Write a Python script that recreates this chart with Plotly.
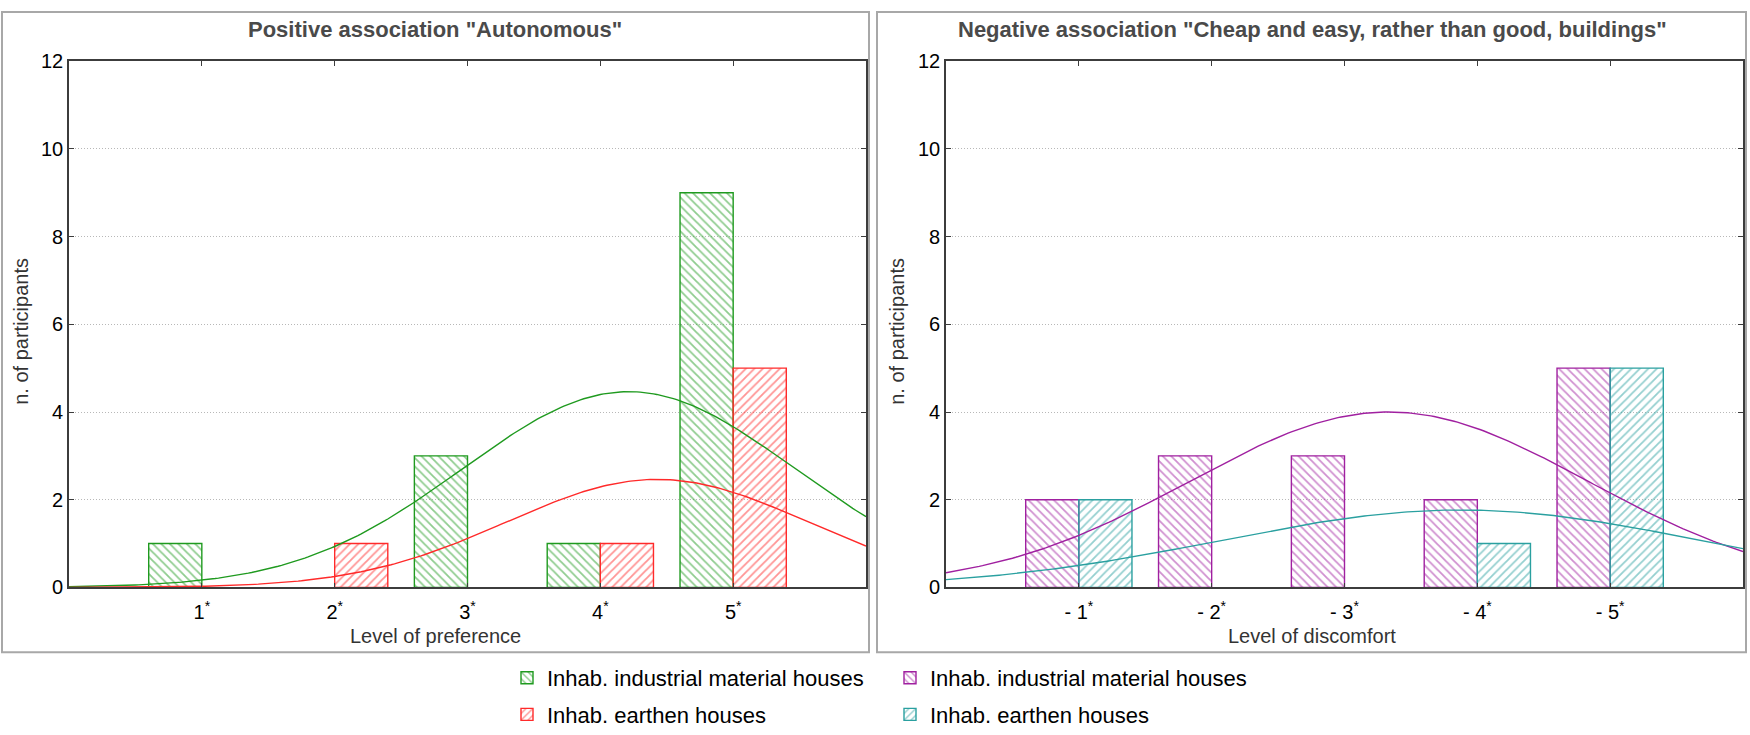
import numpy as np
import plotly.graph_objects as go

# ---------------- data ----------------
levels = [1, 2, 3, 4, 5]
ticks_left = ["1<sup>*</sup>", "2<sup>*</sup>", "3<sup>*</sup>", "4<sup>*</sup>", "5<sup>*</sup>"]
ticks_right = ["- 1<sup>*</sup>", "- 2<sup>*</sup>", "- 3<sup>*</sup>", "- 4<sup>*</sup>", "- 5<sup>*</sup>"]

industrial_pos = [1, 0, 3, 1, 9]   # green
earthen_pos = [0, 1, 0, 1, 5]      # red
industrial_neg = [2, 3, 3, 2, 5]   # purple
earthen_neg = [2, 0, 0, 1, 5]      # teal

title_left = 'Positive association "Autonomous"'
title_right = 'Negative association "Cheap and easy, rather than good, buildings"'
xlabel_left = "Level of preference"
xlabel_right = "Level of discomfort"
ylabel = "n. of participants"
name_ind = "Inhab. industrial material houses"
name_earth = "Inhab. earthen houses"

GREEN = "#1f9a1f"
RED = "#ff2a2a"
PURPLE = "#a020a0"
TEAL = "#2aa0a0"
FONT = "Liberation Sans, Arial, sans-serif"

W, H = 1750, 745
# vertical calibration of the page -> picture mapping
V_OFF, V_SC = 9.7, 0.972


def px(x):
    return x / W


def py(y_ref):
    page_y = max((y_ref - V_OFF) / V_SC, 1.0)
    return 1 - page_y / H


def normal_fit(counts, xs):
    """Expected counts from a normal distribution fitted to the histogram."""
    c = np.asarray(counts, float)
    v = np.asarray(levels, float)
    n = c.sum()
    mu = (c * v).sum() / n
    sd = np.sqrt((c * (v - mu) ** 2).sum() / (n - 1))
    return n * np.exp(-0.5 * ((xs - mu) / sd) ** 2) / (sd * np.sqrt(2 * np.pi))


def nz(counts):
    return [c if c > 0 else None for c in counts]


xs = np.linspace(0, 6, 241)

fig = go.Figure()


def add_bar(counts, color, shape, name, xa, ya, legend, group):
    fig.add_trace(go.Bar(
        x=levels, y=nz(counts), name=name, xaxis=xa, yaxis=ya,
        legend=legend, legendgroup=group,
        marker=dict(color="rgba(255,255,255,0)",
                    line=dict(color=color, width=1.4),
                    pattern=dict(shape=shape, fgcolor=color, bgcolor="rgba(255,255,255,0)",
                                 size=6, solidity=0.3)),
        hoverinfo="skip"))


add_bar(industrial_pos, GREEN, "\\", name_ind, "x", "y", "legend", "g1")
add_bar(earthen_pos, RED, "/", name_earth, "x", "y", "legend", "g2")
add_bar(industrial_neg, PURPLE, "\\", name_ind, "x2", "y2", "legend2", "g3")
add_bar(earthen_neg, TEAL, "/", name_earth, "x2", "y2", "legend2", "g4")

for counts, color, xa, ya in [(industrial_pos, GREEN, "x", "y"), (earthen_pos, RED, "x", "y"),
                              (industrial_neg, PURPLE, "x2", "y2"), (earthen_neg, TEAL, "x2", "y2")]:
    fig.add_trace(go.Scatter(x=xs, y=normal_fit(counts, xs), mode="lines",
                             line=dict(color=color, width=1.4), xaxis=xa, yaxis=ya,
                             showlegend=False, hoverinfo="skip"))

axis_common = dict(showline=True, linecolor="#3c3c3c", linewidth=1.6, mirror="ticks",
                   ticks="inside", ticklen=5, tickcolor="#3c3c3c", tickwidth=1.2,
                   zeroline=False, tickfont=dict(family=FONT, size=20, color="#000"))
grid_common = dict(showgrid=True, gridcolor="#b8b8b8", griddash="1px,2px", gridwidth=1)

y_dom = [py(587), py(60)]


def ann(text, x, y, size, color, angle=0):
    return dict(text=text, x=px(x), y=py(y), xref="paper", yref="paper",
                xanchor="center", yanchor="middle", textangle=angle, showarrow=False,
                font=dict(family=FONT, size=size, color=color))


fig.update_layout(
    width=W, height=H, margin=dict(l=0, r=0, t=0, b=0),
    paper_bgcolor="white", plot_bgcolor="white",
    barmode="group", bargap=0.2, bargroupgap=0,
    font=dict(family=FONT),
    xaxis=dict(domain=[px(69), px(866)], range=[0, 6], tickvals=levels, ticktext=ticks_left,
               showgrid=False, anchor="y", ticklabelstandoff=6, **axis_common),
    yaxis=dict(domain=y_dom, range=[0, 12], dtick=2, anchor="x", **grid_common, **axis_common),
    xaxis2=dict(domain=[px(946), px(1743)], range=[0, 6], tickvals=levels, ticktext=ticks_right,
                showgrid=False, anchor="y2", ticklabelstandoff=6, **axis_common),
    yaxis2=dict(domain=y_dom, range=[0, 12], dtick=2, anchor="x2", **grid_common, **axis_common),
    legend=dict(x=px(507), y=1 - 665.6 / H, xanchor="left", yanchor="top", orientation="v",
                font=dict(family=FONT, size=22, color="#000"), tracegroupgap=5,
                bgcolor="rgba(0,0,0,0)"),
    legend2=dict(x=px(890), y=1 - 665.6 / H, xanchor="left", yanchor="top", orientation="v",
                 font=dict(family=FONT, size=22, color="#000"), tracegroupgap=5,
                 bgcolor="rgba(0,0,0,0)"),
    shapes=[
        dict(type="rect", xref="paper", yref="paper", x0=px(2), x1=px(869), y0=py(652), y1=py(3),
             line=dict(color="#a8a8a8", width=2)),
        dict(type="rect", xref="paper", yref="paper", x0=px(877), x1=px(1746), y0=py(652), y1=py(3),
             line=dict(color="#a8a8a8", width=2)),
    ],
    annotations=[
        ann("<b>%s</b>" % title_left, 435, 28, 22, "#4a4a4a"),
        ann("<b>%s</b>" % title_right, 1312, 28, 22, "#4a4a4a"),
        ann(xlabel_left, 435, 636, 20, "#333"),
        ann(xlabel_right, 1312, 636, 20, "#333"),
        ann(ylabel, 21, 331, 20, "#333", -90),
        ann(ylabel, 897, 331, 20, "#333", -90),
    ],
)

fig.write_html("out.html", config={"displayModeBar": False},
               post_script="document.body.style.margin='0';")
